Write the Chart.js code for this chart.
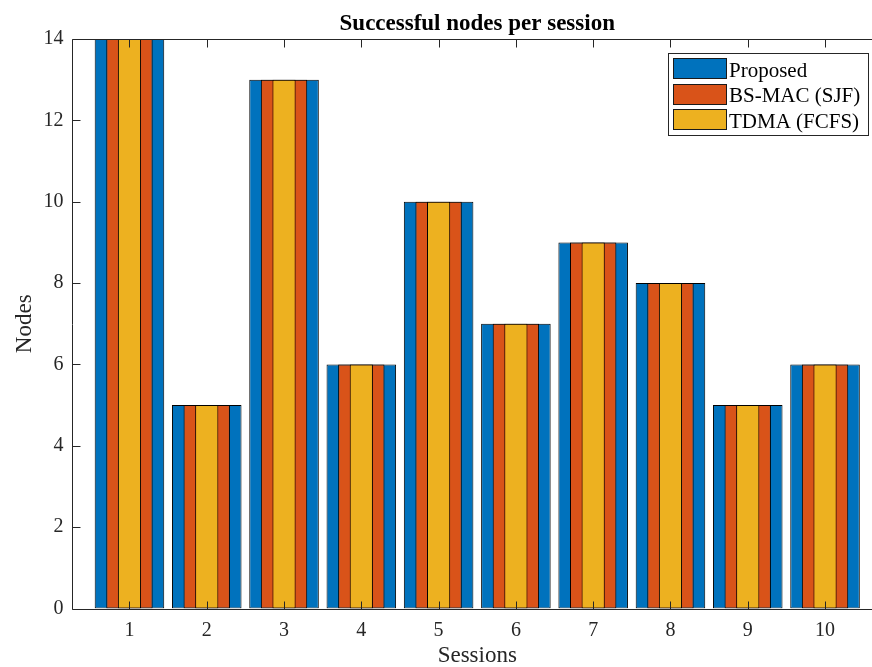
<!DOCTYPE html>
<html><head><meta charset="utf-8">
<script src="https://cdn.jsdelivr.net/npm/chart.js@4"></script>
<style>html,body{margin:0;padding:0;background:#fff;overflow:hidden;width:872px;height:667px;} canvas{display:block;}</style>
</head><body>
<canvas id="c" width="884" height="667"></canvas>
<script>
const sessions = [1, 2, 3, 4, 5, 6, 7, 8, 9, 10];
const proposed = [14, 5, 13, 6, 10, 7, 9, 8, 5, 6];
const bsmac = [14, 5, 13, 6, 10, 7, 9, 8, 5, 6];
const tdma = [14, 5, 13, 6, 10, 7, 9, 8, 5, 6];
const yTicks = [0, 2, 4, 6, 8, 10, 12, 14];
const seriesNames = ['Proposed', 'BS-MAC (SJF)', 'TDMA (FCFS)'];
const seriesColors = ['#0072BD', '#D95319', '#EDB120'];

const FONT = '"Liberation Serif", "Times New Roman", Times, serif';
const AX = '#262626';

function pts(vals) { return sessions.map((s, i) => ({ x: s, y: vals[i] })); }

const axesBox = {
  id: 'axesBox',
  afterDatasetsDraw(chart) {
    const { ctx, chartArea: a, scales: { x, y } } = chart;
    const L = Math.round(a.left) + 0.5, R = Math.round(a.right) + 0.5;
    const T = Math.round(a.top) + 0.5, B = Math.round(a.bottom) + 0.5;
    ctx.save();
    ctx.strokeStyle = AX; ctx.lineWidth = 1;
    ctx.beginPath();
    ctx.rect(L, T, R - L, B - T);
    sessions.forEach(v => {
      const px = Math.round(x.getPixelForValue(v)) + 0.5;
      ctx.moveTo(px, B); ctx.lineTo(px, B - 8);
      ctx.moveTo(px, T); ctx.lineTo(px, T + 8);
    });
    yTicks.forEach(v => {
      const py = Math.round(y.getPixelForValue(v)) + 0.5;
      ctx.moveTo(L, py); ctx.lineTo(L + 8, py);
      ctx.moveTo(R, py); ctx.lineTo(R - 8, py);
    });
    ctx.stroke();
    ctx.restore();
  }
};

const insideLegend = {
  id: 'insideLegend',
  afterDraw(chart) {
    const ctx = chart.ctx;
    const bx = 668.5, by = 53.5, bw = 200, bh = 82, pitch = 25.6;
    ctx.save();
    ctx.fillStyle = '#fff';
    ctx.fillRect(bx, by, bw, bh);
    ctx.strokeStyle = AX; ctx.lineWidth = 1;
    ctx.strokeRect(bx, by, bw, bh);
    ctx.font = '21px ' + FONT;
    ctx.textBaseline = 'alphabetic';
    ctx.textAlign = 'left';
    chart.data.datasets.forEach((ds, i) => {
      const sy = Math.round(58 + i * pitch) + 0.5;
      ctx.fillStyle = ds.backgroundColor;
      ctx.fillRect(673.5, sy, 53, 20);
      ctx.strokeStyle = '#1a1a1a';
      ctx.strokeRect(673.5, sy, 53, 20);
      ctx.fillStyle = '#000';
      ctx.fillText(ds.label, 729, 76.5 + i * pitch);
    });
    ctx.restore();
  }
};

const widths = [0.9, 0.6, 0.3];
const seriesData = [proposed, bsmac, tdma];

new Chart(document.getElementById('c'), {
  type: 'bar',
  data: {
    datasets: seriesData.map((vals, i) => ({
      label: seriesNames[i],
      data: pts(vals),
      backgroundColor: seriesColors[i],
      borderColor: '#000',
      borderWidth: 1,
      borderSkipped: false,
      grouped: false,
      categoryPercentage: 1,
      barPercentage: widths[i],
      order: 3 - i
    }))
  },
  options: {
    responsive: false,
    animation: false,
    devicePixelRatio: 1,
    layout: { padding: { left: 0, right: 1, top: 0, bottom: 0 } },
    plugins: {
      legend: { display: false },
      tooltip: { enabled: false },
      title: {
        display: true,
        fullSize: false,
        text: 'Successful nodes per session',
        color: '#000',
        font: { family: FONT, size: 23, weight: 'bold', lineHeight: 1.2 },
        padding: { top: 10, bottom: 1.4 }
      }
    },
    scales: {
      x: {
        type: 'linear',
        min: 0.25,
        max: 10.75,
        offset: false,
        bounds: 'data',
        grid: { display: false, drawTicks: false },
        border: { display: false },
        afterBuildTicks: (scale) => { scale.ticks = sessions.map(v => ({ value: v })); },
        afterFit: (scale) => { scale.height = 58.5; },
        ticks: {
          autoSkip: false,
          maxRotation: 0,
          padding: 10,
          color: AX,
          font: { family: FONT, size: 20 },
          callback: (v) => String(v)
        },
        title: {
          display: true,
          text: 'Sessions',
          color: AX,
          font: { family: FONT, size: 23, lineHeight: 1 },
          padding: { top: 0, bottom: 0 }
        }
      },
      y: {
        min: 0,
        max: 14,
        grid: { display: false, drawTicks: false },
        border: { display: false },
        afterBuildTicks: (scale) => { scale.ticks = yTicks.map(v => ({ value: v })); },
        afterFit: (scale) => { scale.width = 71.5; },
        ticks: {
          padding: 8,
          color: AX,
          font: { family: FONT, size: 20 },
          callback: (v) => String(v)
        },
        title: {
          display: true,
          text: 'Nodes',
          color: AX,
          font: { family: FONT, size: 23, lineHeight: 1 },
          padding: { top: 13.5, bottom: 0 }
        }
      }
    }
  },
  plugins: [axesBox, insideLegend]
});
</script>
</body></html>
